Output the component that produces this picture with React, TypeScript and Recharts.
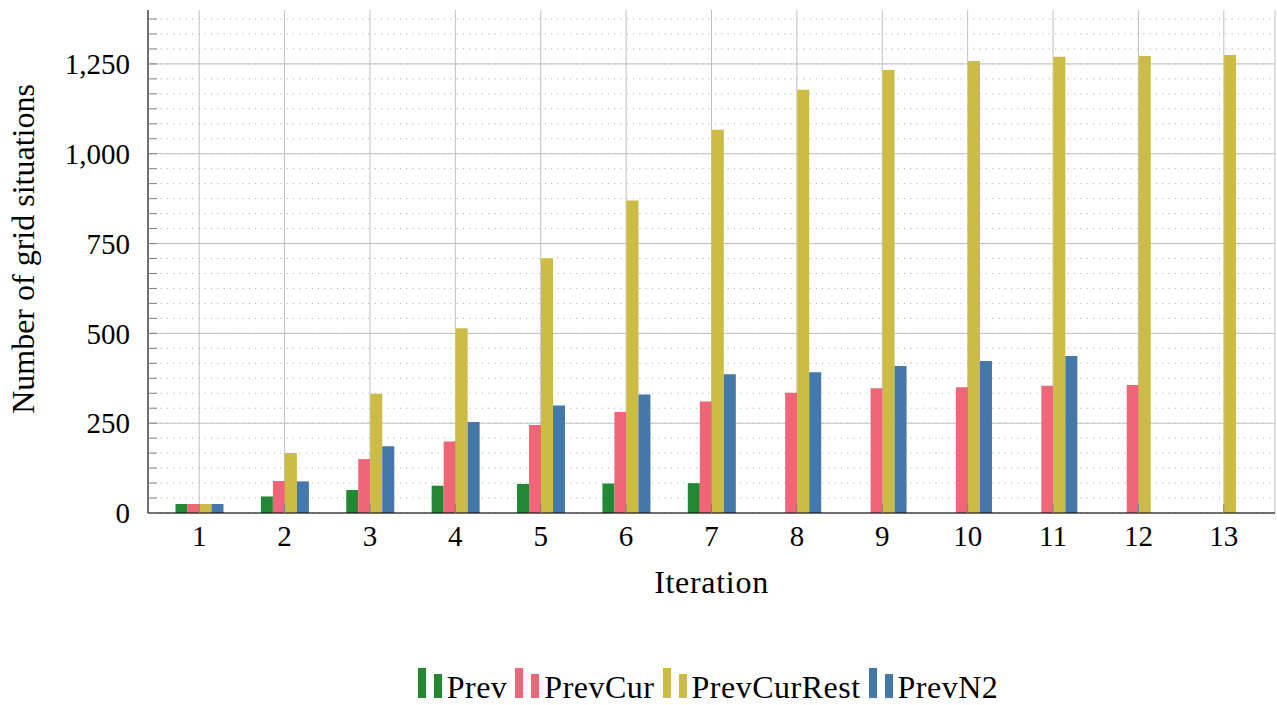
import React from 'react';
import { BarChart, Bar, XAxis, YAxis, CartesianGrid, Legend, Label } from 'recharts';

const FONT = '"Liberation Serif", "Times New Roman", serif';

const iterations = ['1', '2', '3', '4', '5', '6', '7', '8', '9', '10', '11', '12', '13'];
const prev = [25, 46, 64, 76, 81, 82, 83, null, null, null, null, null, null];
const prevCur = [25, 89, 150, 199, 245, 281, 310, 335, 347, 350, 354, 356, null];
const prevCurRest = [25, 167, 332, 514, 709, 870, 1067, 1178, 1233, 1258, 1270, 1272, 1275];
const prevN2 = [25, 88, 186, 253, 299, 330, 386, 392, 409, 423, 437, null, null];

const seriesNames = ['Prev', 'PrevCur', 'PrevCurRest', 'PrevN2'];
const seriesColors = ['#228833', '#EE6677', '#CCBB44', '#4477AA'];

const majorTicks = [0, 250, 500, 750, 1000, 1250];
// 5 minor ticks between majors
const minorTicks = Array.from({ length: 34 }, (_, k) => (k * 250) / 6);

const rows = iterations.map((iter, i) => ({
  iter,
  Prev: prev[i],
  PrevCur: prevCur[i],
  PrevCurRest: prevCurRest[i],
  PrevN2: prevN2[i],
}));

const isMajor = (v: number) => Math.abs(v / 250 - Math.round(v / 250)) < 1e-6;
const fmtY = (v: number) => (isMajor(v) ? Math.round(v).toLocaleString('en-US') : '');

const tickStyle = { fontSize: 29, fill: '#000', fontFamily: FONT };

function LegendContent() {
  return (
    <div
      style={{
        display: 'flex',
        justifyContent: 'center',
        alignItems: 'baseline',
        height: 40,
        paddingTop: 3,
        boxSizing: 'border-box',
        color: '#000',
      }}
    >
      {seriesNames.map((name, i) => (
        <div key={name} style={{ display: 'flex', alignItems: 'baseline', marginRight: 8 }}>
          <svg width={24} height={30} style={{ display: 'block' }}>
            <rect x={0} y={0} width={8} height={30} fill={seriesColors[i]} />
            <rect x={16} y={6} width={8} height={24} fill={seriesColors[i]} />
          </svg>
          <span
            style={{
              marginLeft: 5,
              lineHeight: 1,
              fontFamily: FONT,
              fontSize: 32,
              letterSpacing: 0.5,
            }}
          >
            {name}
          </span>
        </div>
      ))}
    </div>
  );
}

function YLabel() {
  const cy = 249;
  return (
    <text
      x={34}
      y={cy}
      transform={`rotate(-90, 34, ${cy})`}
      textAnchor="middle"
      fontSize={32}
      fontFamily={FONT}
      fill="#000"
    >
      Number of grid situations
    </text>
  );
}

export default function App() {
  return (
    <div style={{ position: 'absolute', left: 0, top: 0, fontFamily: FONT, background: '#fff' }}>
      <BarChart
        width={1277}
        height={705}
        data={rows}
        margin={{ top: 10, right: 2, left: 0, bottom: 0 }}
        barGap={0}
        barSize={12}
      >
        <CartesianGrid
          xAxisId="bottom"
          yAxisId="left"
          horizontalValues={minorTicks}
          vertical={false}
          stroke="#a8a8a8"
          strokeDasharray="1 5.3"
        />
        <CartesianGrid
          xAxisId="bottom"
          yAxisId="left"
          horizontalValues={majorTicks}
          stroke="#c0c0c0"
        />
        <XAxis
          xAxisId="bottom"
          dataKey="iter"
          height={152}
          padding={{ left: 8.5, right: 8.5 }}
          tickSize={-9}
          tickMargin={21}
          tickLine={{ stroke: '#808080' }}
          axisLine={{ stroke: '#000' }}
          tick={tickStyle}
          interval={0}
        >
          <Label
            value="Iteration"
            position="insideBottom"
            offset={72}
            fontSize={32}
            fontFamily={FONT}
            letterSpacing={0.7}
            fill="#000"
          />
        </XAxis>
        <XAxis
          xAxisId="top"
          orientation="top"
          dataKey="iter"
          height={0}
          padding={{ left: 8.5, right: 8.5 }}
          tick={false}
          tickSize={-9}
          tickLine={{ stroke: '#808080' }}
          axisLine={{ stroke: '#000' }}
          interval={0}
        />
        <YAxis
          yAxisId="left"
          width={148}
          domain={[0, 1400]}
          ticks={minorTicks}
          interval={0}
          tickFormatter={fmtY}
          tickSize={-9}
          tickMargin={27}
          tickLine={{ stroke: '#808080' }}
          axisLine={{ stroke: '#000' }}
          tick={tickStyle}
        >
          <Label content={YLabel} />
        </YAxis>
        <YAxis
          yAxisId="right"
          orientation="right"
          width={0}
          domain={[0, 1400]}
          ticks={minorTicks}
          interval={0}
          tick={false}
          tickSize={-9}
          tickLine={{ stroke: '#808080' }}
          axisLine={{ stroke: '#000' }}
        />
        <Legend
          verticalAlign="bottom"
          content={<LegendContent />}
          wrapperStyle={{ left: 148, width: 1128 }}
        />
        {seriesNames.map((name, i) => (
          <Bar
            key={name}
            dataKey={name}
            xAxisId="bottom"
            yAxisId="left"
            fill={seriesColors[i]}
            isAnimationActive={false}
          />
        ))}
      </BarChart>
    </div>
  );
}
